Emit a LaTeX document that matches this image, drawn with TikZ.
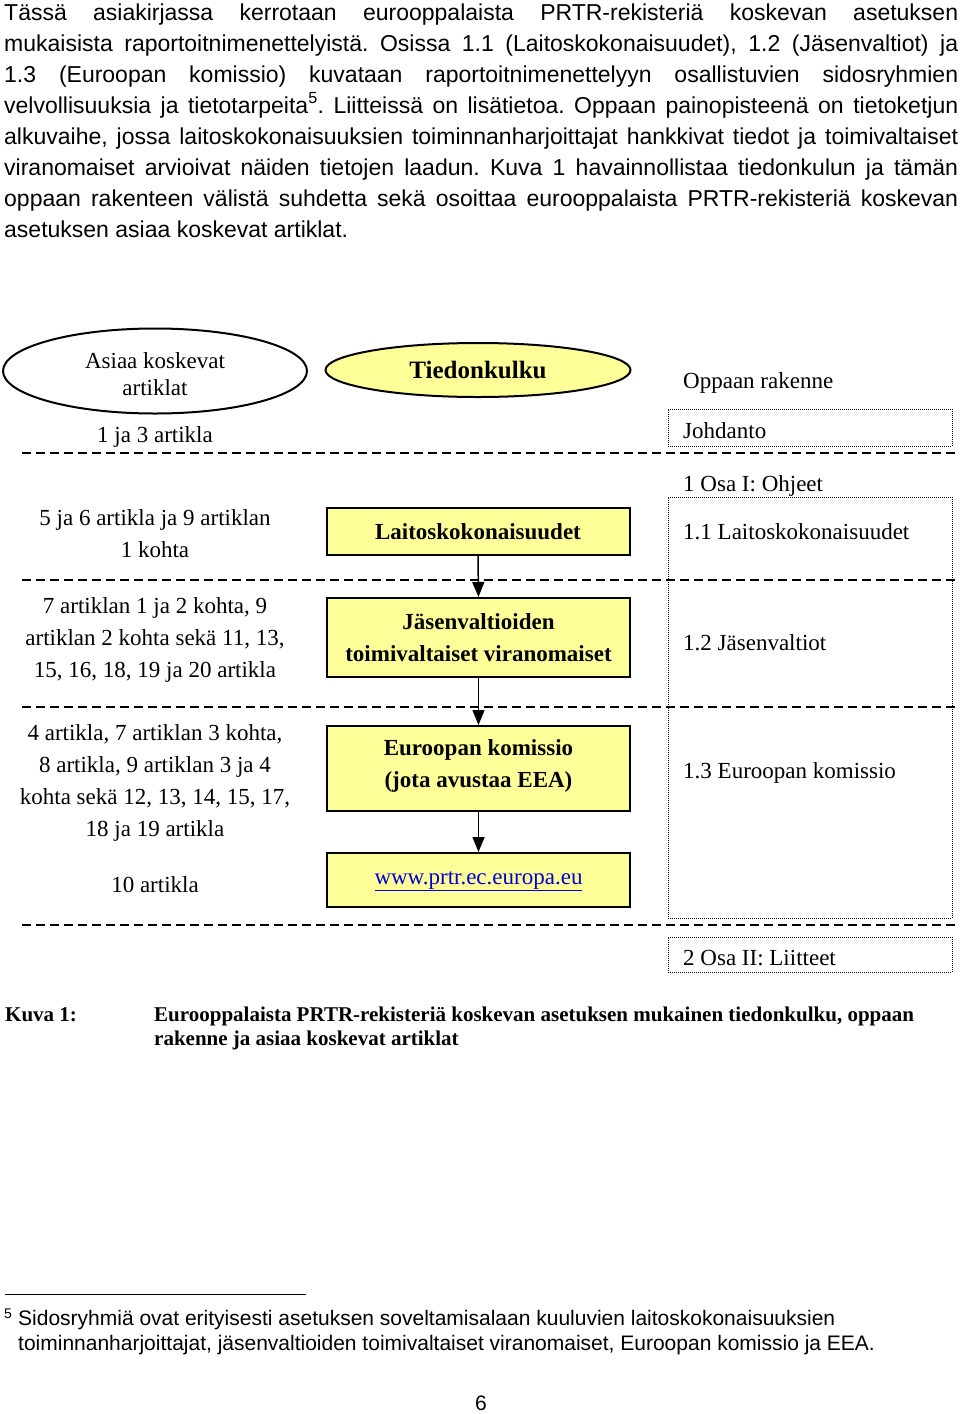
\documentclass[tikz,border=0pt]{standalone}
\usepackage{fontspec}
\setmainfont{Liberation Serif}
\newfontfamily\arialfont{Liberation Sans}
\usetikzlibrary{shapes.geometric,arrows.meta}
\definecolor{boxyellow}{RGB}{255,255,153}
\definecolor{linkblue}{RGB}{0,0,204}
\newcommand{\jline}[1]{\makebox[954pt][s]{#1}}
\frenchspacing
\begin{document}
\begin{tikzpicture}[x=1pt,y=-1pt,
  bodytext/.style={anchor=base west, inner sep=0, font=\arialfont\fontsize{23}{31}\selectfont},
  diagtext/.style={inner sep=0, align=center, font=\fontsize{23}{32}\selectfont},
  lefttext/.style={inner sep=0, anchor=base west, font=\fontsize{23}{32}\selectfont},
  flowbox/.style={draw, line width=2pt, fill=boxyellow, minimum width=303pt, inner sep=0,
    align=center, font=\bfseries\fontsize{23}{32}\selectfont},
  sectbox/.style={draw, dash pattern=on 1pt off 1pt, line width=1pt, inner sep=0, minimum width=284pt},
  sepline/.style={dash pattern=on 9pt off 5pt, line width=1.6pt},
  flowarrow/.style={-{Triangle[width=12pt,length=15pt]}, line width=1.5pt},
  capfont/.style={inner sep=0, anchor=base west, font=\bfseries\fontsize{21}{24}\selectfont},
  notefont/.style={inner sep=0, anchor=base west, font=\arialfont\fontsize{21}{25}\selectfont}
]
\useasboundingbox (0,0) rectangle (960,1414);

% body paragraph
\node[bodytext] (p1) at (4,20) {\jline{Tässä asiakirjassa kerrotaan eurooppalaista PRTR-rekisteriä koskevan asetuksen}};
\node[bodytext] (p2) at (4,51) {\jline{mukaisista raportoitnimenettelyistä. Osissa 1.1 (Laitoskokonaisuudet), 1.2 (Jäsenvaltiot) ja}};
\node[bodytext] (p3) at (4,82) {\jline{1.3 (Euroopan komissio) kuvataan raportoitnimenettelyyn osallistuvien sidosryhmien}};
\node[bodytext] (p4) at (4,113) {\jline{velvollisuuksia ja tietotarpeita\textsuperscript{5}. Liitteissä on lisätietoa. Oppaan painopisteenä on tietoketjun}};
\node[bodytext] (p5) at (4,144) {\jline{alkuvaihe, jossa laitoskokonaisuuksien toiminnanharjoittajat hankkivat tiedot ja toimivaltaiset}};
\node[bodytext] (p6) at (4,175) {\jline{viranomaiset arvioivat näiden tietojen laadun. Kuva 1 havainnollistaa tiedonkulun ja tämän}};
\node[bodytext] (p7) at (4,206) {\jline{oppaan rakenteen välistä suhdetta sekä osoittaa eurooppalaista PRTR-rekisteriä koskevan}};
\node[bodytext] (p8) at (4,237) {asetuksen asiaa koskevat artiklat.};

% header row
\node[ellipse, draw, line width=2pt, minimum width=304pt, minimum height=85pt, inner sep=0,
  align=center, font=\fontsize{23}{27}\selectfont] (artell) at (155,371) {};
\node[diagtext, font=\fontsize{23}{27}\selectfont] (arttxt) at (155,374) {Asiaa koskevat\\artiklat};
\node[ellipse, draw, line width=2pt, fill=boxyellow, minimum width=305pt, minimum height=54pt, inner sep=0,
  font=\bfseries\fontsize{25}{30}\selectfont] (flowell) at (478,370) {Tiedonkulku};
\node[lefttext] (rakenne) at (683,388) {Oppaan rakenne};

\node[diagtext, anchor=base] (a13) at (155,442) {1 ja 3 artikla};
\node[sectbox, minimum height=37pt] (johbox) at (810,427.5) {};
\node[lefttext] (joh) at (683,438) {Johdanto};

% separators
\coordinate (s1a) at (22,453); \coordinate (s1b) at (955,453);
\coordinate (s2a) at (22,580); \coordinate (s2b) at (955,580);
\coordinate (s3a) at (22,707); \coordinate (s3b) at (955,707);
\coordinate (s4a) at (22,925); \coordinate (s4b) at (955,925);
\draw[sepline] (s1a) -- (s1b);

% part I
\node[lefttext] (osa1) at (683,491) {1 Osa I: Ohjeet};
\node[sectbox, minimum height=421pt] (bigbox) at (810,707.5) {};
\node[lefttext] (r11) at (683,539) {1.1 Laitoskokonaisuudet};
\node[lefttext] (r12) at (683,650) {1.2 Jäsenvaltiot};
\node[lefttext] (r13) at (683,778) {1.3 Euroopan komissio};

\node[diagtext] (a56) at (155,534) {5 ja 6 artikla ja 9 artiklan\\1 kohta};
\node[diagtext] (a7) at (155,640) {7 artiklan 1 ja 2 kohta, 9\\artiklan 2 kohta sekä 11, 13,\\15, 16, 18, 19 ja 20 artikla};
\node[diagtext] (a4) at (155,783) {4 artikla, 7 artiklan 3 kohta,\\8 artikla, 9 artiklan 3 ja 4\\kohta sekä 12, 13, 14, 15, 17,\\18 ja 19 artikla};
\node[diagtext, anchor=base] (a10) at (155,892) {10 artikla};

\node[flowbox, minimum height=47pt] (laitos) at (478,531.5) {Laitoskokonaisuudet};
\node[flowbox, minimum height=79pt] (jasen) at (478.5,637.5) {Jäsenvaltioiden\\toimivaltaiset viranomaiset};
\node[flowbox, minimum height=85pt] (komissio) at (478.5,768.5) {};
\node[diagtext, font=\bfseries\fontsize{23}{32}\selectfont] (komtxt) at (478.5,766) {Euroopan komissio\\(jota avustaa EEA)};
\node[flowbox, minimum height=54pt] (www) at (478.5,880) {};
\node[diagtext, anchor=base] (wwwtxt) at (478.5,884) {\textcolor{linkblue}{\underline{www.prtr.ec.europa.eu}}};

\draw[sepline] (s2a) -- (s2b);
\draw[sepline] (s3a) -- (s3b);
\draw[sepline] (s4a) -- (s4b);

\draw[flowarrow] (laitos.south) -- (jasen.north);
\draw[flowarrow] (jasen.south) -- (komissio.north);
\draw[flowarrow] (komissio.south) -- (www.north);

% part II
\node[sectbox, minimum height=35pt] (liitbox) at (810,954.5) {};
\node[lefttext] (osa2) at (683,965) {2 Osa II: Liitteet};

% caption
\node[capfont] (kuva) at (5,1021) {Kuva 1:};
\node[capfont] (cap1) at (154,1021) {Eurooppalaista PRTR-rekisteriä koskevan asetuksen mukainen tiedonkulku, oppaan};
\node[capfont] (cap2) at (154,1045) {rakenne ja asiaa koskevat artiklat};

% footnote
\coordinate (fr1) at (5,1294); \coordinate (fr2) at (306,1294);
\draw[line width=1pt] (fr1) -- (fr2);
\node[notefont, font=\arialfont\fontsize{14}{15}\selectfont] (fnmark) at (4,1318) {5};
\node[notefont] (fn1) at (18,1325) {Sidosryhmiä ovat erityisesti asetuksen soveltamisalaan kuuluvien laitoskokonaisuuksien};
\node[notefont] (fn2) at (18,1350) {toiminnanharjoittajat, jäsenvaltioiden toimivaltaiset viranomaiset, Euroopan komissio ja EEA.};
\node[notefont, anchor=base] (pagenum) at (481,1410) {6};
\end{tikzpicture}
\end{document}
